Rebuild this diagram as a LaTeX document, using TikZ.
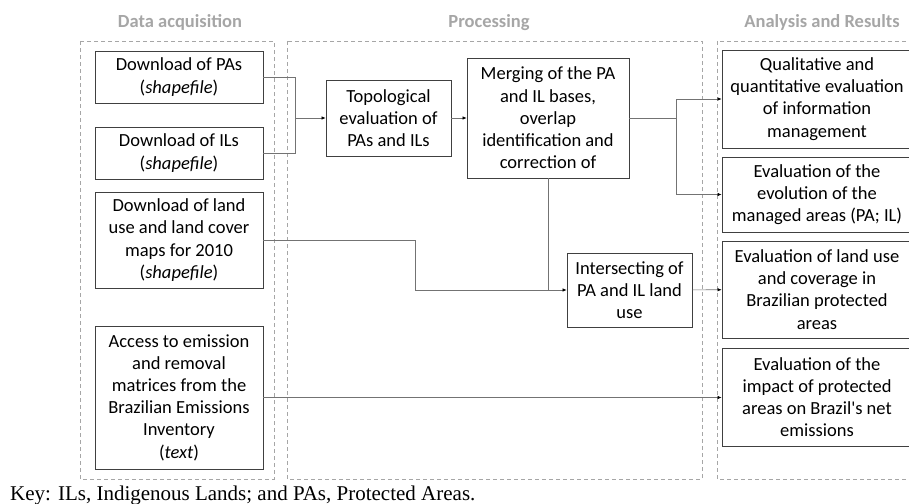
\documentclass[tikz,border=0pt]{standalone}
\usepackage{fontspec}
\setmainfont{Carlito}
\newfontfamily\keyfont{Liberation Serif}
\usepackage{tikz}
\usetikzlibrary{arrows.meta}

\begin{document}
\begin{tikzpicture}[x=1pt,y=-1pt,
	box/.style={draw=black!75,line width=0.8pt,align=center,inner sep=0pt,
		font=\fontsize{18.5}{22.2}\selectfont},
	group/.style={draw=black!35,dashed,dash pattern=on 4pt off 3pt,line width=0.8pt},
	title/.style={anchor=base,text=black!35,font=\fontsize{18.5}{20}\selectfont\bfseries},
	link/.style={draw=black!55,line width=0.6pt},
	arr/.style={link,-{Latex[length=4pt,width=3.5pt,color=black]}}]
\useasboundingbox (0,0) rectangle (909,503);
% groups
\draw[group] (80,41) rectangle (274,479);
\draw[group] (287,41) rectangle (702,479);
\draw[group] (717,41) rectangle (916,479);
\node[title] (t1) at (180,28) {Data acquisition};
\node[title] (t2) at (489,28) {Processing};
\node[title] (t3) at (822,28) {Analysis and Results};
% data acquisition
\node[box,minimum width=168pt,minimum height=52pt] (pa) at (179,77) {Download of PAs\\(\textit{shapefile})};
\node[box,minimum width=168pt,minimum height=52pt] (il) at (179,153) {Download of ILs\\(\textit{shapefile})};
\node[box,minimum width=168pt,minimum height=96pt] (lu) at (179,240) {Download of land\\use and land cover\\maps for 2010\\(\textit{shapefile})};
\node[box,minimum width=168pt,minimum height=143pt] (em) at (179,397.5) {Access to emission\\and removal\\matrices from the\\Brazilian Emissions\\Inventory\\(\textit{text})};
% processing
\node[box,minimum width=125pt,minimum height=76pt] (topo) at (388.5,118) {Topological\\evaluation of\\PAs and ILs};
\node[box,minimum width=162pt,minimum height=120pt] (merge) at (548,118) {Merging of the PA\\and IL bases,\\overlap\\identification and\\correction of};
\node[box,minimum width=125pt,minimum height=74pt] (inter) at (629.5,290) {Intersecting of\\PA and IL land\\use};
% analysis and results
\node[box,minimum width=190pt,minimum height=98pt] (qual) at (817,99) {Qualitative and\\quantitative evaluation\\of information\\management};
\node[box,minimum width=190pt,minimum height=75pt] (evol) at (817,194.5) {Evaluation of the\\evolution of the\\managed areas (PA; IL)};
\node[box,minimum width=190pt,minimum height=97pt] (luev) at (817,289.5) {Evaluation of land use\\and coverage in\\Brazilian protected\\areas};
\node[box,minimum width=190pt,minimum height=98pt] (imp) at (817,397) {Evaluation of the\\impact of protected\\areas on Brazil\textquotesingle s net\\emissions};
% connectors
\coordinate (j1) at (295,118);
\coordinate (j2) at (676,118);
\coordinate (j3) at (415,290);
\draw[link] (pa.east) -| (j1);
\draw[link] (il.east) -| (j1);
\draw[arr] (j1) -- (topo);
\draw[arr] (topo) -- (merge);
\draw[link] (merge) -- (j2);
\draw[arr] (j2) |- (qual);
\draw[arr] (j2) |- (evol);
\draw[arr] (merge.south) |- (inter.west);
\draw[link] (lu.east) -| (j3) -- (merge.south |- inter.west);
\draw[arr] (inter) -- (luev);
\draw[arr] (em.east) -- (imp.west |- em.east);
\node[anchor=base west,inner sep=0pt,font=\keyfont\fontsize{21}{24}\selectfont] (key) at (10,500) {Key: ILs, Indigenous Lands; and PAs, Protected Areas.};
\end{tikzpicture}
\end{document}
